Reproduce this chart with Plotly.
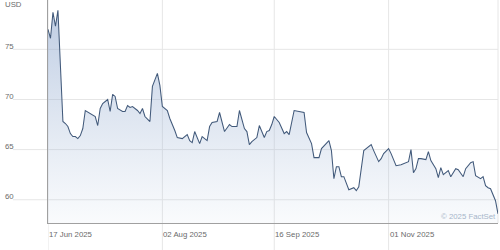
import plotly.graph_objects as go

dates = [
    "2025-06-17", "2025-06-18", "2025-06-19", "2025-06-20", "2025-06-21", "2025-06-23",
    "2025-06-24", "2025-06-25", "2025-06-26", "2025-06-27", "2025-06-28", "2025-06-29",
    "2025-06-30", "2025-07-01", "2025-07-02", "2025-07-04", "2025-07-06", "2025-07-07",
    "2025-07-08", "2025-07-09", "2025-07-11", "2025-07-12", "2025-07-13", "2025-07-14",
    "2025-07-15", "2025-07-17", "2025-07-18", "2025-07-19", "2025-07-20", "2025-07-21",
    "2025-07-23", "2025-07-24", "2025-07-25", "2025-07-26", "2025-07-28", "2025-07-29",
    "2025-07-31", "2025-08-01", "2025-08-02", "2025-08-04", "2025-08-05", "2025-08-07",
    "2025-08-08", "2025-08-10", "2025-08-12", "2025-08-13", "2025-08-14", "2025-08-15",
    "2025-08-17", "2025-08-18", "2025-08-20", "2025-08-21", "2025-08-22", "2025-08-24",
    "2025-08-25", "2025-08-27", "2025-08-28", "2025-08-29", "2025-08-30", "2025-09-01",
    "2025-09-02", "2025-09-04", "2025-09-05", "2025-09-06", "2025-09-07", "2025-09-09",
    "2025-09-10", "2025-09-12", "2025-09-13", "2025-09-14", "2025-09-15", "2025-09-16",
    "2025-09-18", "2025-09-20", "2025-09-21", "2025-09-22", "2025-09-24", "2025-09-26",
    "2025-09-28", "2025-09-29", "2025-10-01", "2025-10-02", "2025-10-04", "2025-10-05",
    "2025-10-07", "2025-10-08", "2025-10-09", "2025-10-10", "2025-10-11", "2025-10-12",
    "2025-10-13", "2025-10-14", "2025-10-16", "2025-10-17", "2025-10-18", "2025-10-19",
    "2025-10-20", "2025-10-22", "2025-10-23", "2025-10-25", "2025-10-26", "2025-10-28",
    "2025-10-29", "2025-10-30", "2025-11-01", "2025-11-02", "2025-11-04", "2025-11-06",
    "2025-11-09", "2025-11-10", "2025-11-11", "2025-11-12", "2025-11-13", "2025-11-14",
    "2025-11-16", "2025-11-17", "2025-11-18", "2025-11-20", "2025-11-21", "2025-11-22",
    "2025-11-23", "2025-11-25", "2025-11-26", "2025-11-28", "2025-11-29", "2025-12-01",
    "2025-12-02", "2025-12-04", "2025-12-05", "2025-12-06", "2025-12-08", "2025-12-09",
    "2025-12-10", "2025-12-11", "2025-12-12", "2025-12-14", "2025-12-15",
]
prices = [
    77.0, 76.1, 78.7, 77.3, 78.9, 67.8,
    67.6, 67.3, 66.6, 66.3, 66.3, 66.1,
    66.4, 67.1, 68.9, 68.6, 68.3, 67.4,
    69.1, 69.6, 70.0, 68.8, 70.5, 70.3,
    69.1, 68.8, 68.8, 69.4, 69.2, 69.3,
    68.9, 68.6, 69.1, 68.3, 67.8, 71.3,
    72.6, 71.4, 69.3, 68.9, 68.1, 66.9,
    66.2, 66.1, 66.5, 65.9, 65.7, 66.8,
    65.6, 66.3, 65.9, 67.3, 67.7, 67.8,
    68.7, 66.8, 67.1, 67.5, 67.3, 67.3,
    68.9, 67.1, 66.8, 65.5, 65.8, 66.2,
    67.4, 66.2, 66.8, 66.9, 67.5, 68.3,
    67.7, 66.6, 66.8, 66.5, 68.9, 68.8,
    68.7, 66.7, 65.6, 64.2, 64.2, 65.1,
    65.6, 65.9, 64.9, 62.1, 63.3, 63.3,
    62.3, 62.3, 61.0, 61.1, 61.2, 60.9,
    61.3, 64.9, 65.1, 65.5, 64.9, 63.8,
    64.1, 64.6, 65.1, 64.6, 63.4, 63.5,
    63.8, 65.0, 62.7, 63.1, 64.1, 64.1,
    64.0, 64.8, 63.9, 63.1, 62.2, 63.2,
    62.5, 62.9, 62.3, 63.1, 63.0, 62.3,
    63.1, 63.7, 63.8, 62.4, 62.1, 62.3,
    61.4, 61.2, 61.1, 59.9, 58.6,
]

y_ticks = [60, 65, 70, 75]
x_ticks = ["2025-06-17", "2025-08-02", "2025-09-16", "2025-11-01"]
x_tick_labels = ["17 Jun 2025", "02 Aug 2025", "16 Sep 2025", "01 Nov 2025"]
currency = "USD"
credit = "\u00a9 2025 FactSet"

Y_RANGE = [57.68, 79.92]
X_RANGE = ["2025-06-17", "2025-12-15"]

W, H = 500, 250
ML, MR, MT, MB = 48, 2, 0, 27
PW = W - ML - MR
PH = H - MT - MB

FONT = "Liberation Sans, Arial, sans-serif"
FS = 7.8
LABEL_COLOR = "#6a6a6a"
GRID = "#e6e6e6"
AXIS = "#a0a0a0"

fig = go.Figure(
    go.Scatter(
        x=dates,
        y=prices,
        mode="lines",
        line=dict(color="#41597a", width=1.05),
        fill="tozeroy",
        fillgradient=dict(
            type="vertical",
            start=Y_RANGE[0],
            stop=max(prices),
            colorscale=[[0, "rgba(165,186,216,0.06)"], [1, "rgba(148,172,209,0.6)"]],
        ),
        hoverinfo="skip",
    )
)

shapes = []
for t in y_ticks:
    shapes.append(dict(type="line", xref="paper", yref="y", x0=-35 / PW, x1=1, y0=t, y1=t,
                       line=dict(color=GRID, width=1), layer="below"))
for d in x_ticks:
    shapes.append(dict(type="line", xref="x", yref="paper", x0=d, x1=d, y0=-MB / PH, y1=1,
                       line=dict(color=GRID, width=1), layer="below"))
shapes.append(dict(type="line", xref="paper", yref="paper", x0=1, x1=1, y0=0, y1=1,
                   line=dict(color=GRID, width=1), layer="below"))

annotations = []
for t in y_ticks:
    annotations.append(dict(xref="paper", yref="y", x=-45.5 / PW, y=t, text=str(t),
                            xanchor="left", yanchor="middle", yshift=3, showarrow=False,
                            font=dict(family=FONT, size=FS, color=LABEL_COLOR)))
for d, lab in zip(x_ticks, x_tick_labels):
    annotations.append(dict(xref="x", yref="paper", x=d, y=0, text=lab,
                            xanchor="left", yanchor="middle", yshift=-11, xshift=-1,
                            showarrow=False,
                            font=dict(family=FONT, size=FS, color=LABEL_COLOR)))
annotations.append(dict(xref="paper", yref="paper", x=-45.5 / PW, y=1, text=currency,
                        xanchor="left", yanchor="middle", yshift=-4.5, showarrow=False,
                        font=dict(family=FONT, size=FS, color=LABEL_COLOR)))
annotations.append(dict(xref="paper", yref="paper", x=1, y=0, text=credit,
                        xanchor="right", yanchor="middle", yshift=7, xshift=0,
                        showarrow=False,
                        font=dict(family=FONT, size=FS, color="#a7b6ca")))

fig.update_layout(
    width=W, height=H,
    margin=dict(l=ML, r=MR, t=MT, b=MB, pad=0),
    paper_bgcolor="white", plot_bgcolor="white",
    showlegend=False,
    shapes=shapes,
    annotations=annotations,
    xaxis=dict(range=X_RANGE, type="date", showgrid=False, zeroline=False,
               showticklabels=False, ticks="", showline=True, linecolor=AXIS, linewidth=1),
    yaxis=dict(range=Y_RANGE, showgrid=False, zeroline=False, showticklabels=False,
               ticks="", showline=True, linecolor=AXIS, linewidth=1),
)

fig.write_html("out.html")
